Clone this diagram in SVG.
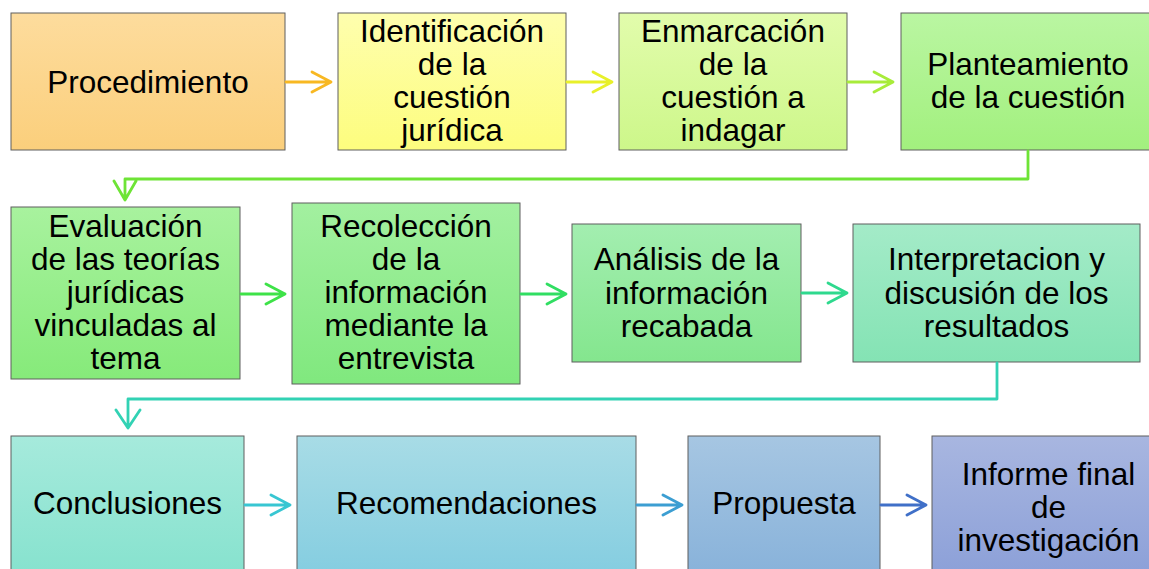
<svg xmlns="http://www.w3.org/2000/svg" width="1149" height="569" viewBox="0 0 1149 569">
<style>
.box{stroke:#5f5f5f;stroke-width:1}
.t{font-family:"Liberation Sans",Arial,sans-serif;font-size:31.5px;fill:#000;text-anchor:middle}
.c{fill:none;stroke-width:2.8;stroke-linecap:round;stroke-linejoin:round}
</style>
<defs>
<linearGradient id="g1" x1="0" y1="0" x2="0" y2="1"><stop offset="0" stop-color="#FDDC9D"/><stop offset="1" stop-color="#FBCF7C"/></linearGradient>
<linearGradient id="g2" x1="0" y1="0" x2="0" y2="1"><stop offset="0" stop-color="#FEFEAE"/><stop offset="1" stop-color="#FDFD7E"/></linearGradient>
<linearGradient id="g3" x1="0" y1="0" x2="0" y2="1"><stop offset="0" stop-color="#E2FCAC"/><stop offset="1" stop-color="#CDF78A"/></linearGradient>
<linearGradient id="g4" x1="0" y1="0" x2="0" y2="1"><stop offset="0" stop-color="#BAF6A2"/><stop offset="1" stop-color="#A2F07E"/></linearGradient>
<linearGradient id="g5" x1="0" y1="0" x2="0" y2="1"><stop offset="0" stop-color="#A8F29E"/><stop offset="1" stop-color="#86EA7A"/></linearGradient>
<linearGradient id="g6" x1="0" y1="0" x2="0" y2="1"><stop offset="0" stop-color="#A3F0A0"/><stop offset="1" stop-color="#80E87E"/></linearGradient>
<linearGradient id="g7" x1="0" y1="0" x2="0" y2="1"><stop offset="0" stop-color="#A3EEB0"/><stop offset="1" stop-color="#84E68E"/></linearGradient>
<linearGradient id="g8" x1="0" y1="0" x2="0" y2="1"><stop offset="0" stop-color="#A4EBC8"/><stop offset="1" stop-color="#84E3B4"/></linearGradient>
<linearGradient id="g9" x1="0" y1="0" x2="0" y2="1"><stop offset="0" stop-color="#A6EADC"/><stop offset="1" stop-color="#86E2CE"/></linearGradient>
<linearGradient id="g10" x1="0" y1="0" x2="0" y2="1"><stop offset="0" stop-color="#A8DCE6"/><stop offset="1" stop-color="#84CDE0"/></linearGradient>
<linearGradient id="g11" x1="0" y1="0" x2="0" y2="1"><stop offset="0" stop-color="#A6C6E2"/><stop offset="1" stop-color="#88B2DA"/></linearGradient>
<linearGradient id="g12" x1="0" y1="0" x2="0" y2="1"><stop offset="0" stop-color="#A8B6E0"/><stop offset="1" stop-color="#8CA0D8"/></linearGradient>
</defs>
<rect width="1149" height="569" fill="#fff"/>

<g id="n1"><rect class="box" x="11" y="13" width="274" height="137" fill="url(#g1)"/>
<text class="t" x="148" y="93">Procedimiento</text></g>
<g id="n2"><rect class="box" x="338" y="13" width="228" height="137" fill="url(#g2)"/>
<text class="t" x="452"><tspan x="452" y="42">Identificación</tspan><tspan x="452" y="75">de la</tspan><tspan x="452" y="108">cuestión</tspan><tspan x="452" y="141">jurídica</tspan></text></g>
<g id="n3"><rect class="box" x="619" y="13" width="228" height="137" fill="url(#g3)"/>
<text class="t" x="733"><tspan x="733" y="42">Enmarcación</tspan><tspan x="733" y="75">de la</tspan><tspan x="733" y="108">cuestión a</tspan><tspan x="733" y="141">indagar</tspan></text></g>
<g id="n4"><rect class="box" x="901" y="13" width="254" height="137" fill="url(#g4)"/>
<text class="t" x="1028"><tspan x="1028" y="75">Planteamiento</tspan><tspan x="1028" y="108">de la cuestión</tspan></text></g>

<g id="n5"><rect class="box" x="11" y="207" width="229" height="172" fill="url(#g5)"/>
<text class="t" x="125.5"><tspan x="125.5" y="237">Evaluación</tspan><tspan x="125.5" y="270">de las teorías</tspan><tspan x="125.5" y="303">jurídicas</tspan><tspan x="125.5" y="336">vinculadas al</tspan><tspan x="125.5" y="369">tema</tspan></text></g>
<g id="n6"><rect class="box" x="292" y="203" width="228" height="181" fill="url(#g6)"/>
<text class="t" x="406"><tspan x="406" y="237">Recolección</tspan><tspan x="406" y="270">de la</tspan><tspan x="406" y="303">información</tspan><tspan x="406" y="336">mediante la</tspan><tspan x="406" y="369">entrevista</tspan></text></g>
<g id="n7"><rect class="box" x="572" y="224" width="229" height="138" fill="url(#g7)"/>
<text class="t" x="686.5"><tspan x="686.5" y="270">Análisis de la</tspan><tspan x="686.5" y="304">información</tspan><tspan x="686.5" y="337">recabada</tspan></text></g>
<g id="n8"><rect class="box" x="853" y="224" width="287" height="138" fill="url(#g8)"/>
<text class="t" x="996.5"><tspan x="996.5" y="270">Interpretacion y</tspan><tspan x="996.5" y="304">discusión de los</tspan><tspan x="996.5" y="337">resultados</tspan></text></g>

<g id="n9"><rect class="box" x="11" y="436" width="233" height="140" fill="url(#g9)"/>
<text class="t" x="127.5" y="514">Conclusiones</text></g>
<g id="n10"><rect class="box" x="297" y="436" width="339" height="140" fill="url(#g10)"/>
<text class="t" x="466.5" y="514">Recomendaciones</text></g>
<g id="n11"><rect class="box" x="688" y="436" width="192" height="140" fill="url(#g11)"/>
<text class="t" x="784" y="514">Propuesta</text></g>
<g id="n12"><rect class="box" x="932" y="436" width="233" height="140" fill="url(#g12)"/>
<text class="t" x="1048.5"><tspan x="1048.5" y="485">Informe final</tspan><tspan x="1048.5" y="518">de</tspan><tspan x="1048.5" y="551">investigación</tspan></text></g>

<g id="connectors">
<path class="c" stroke="#F8B822" d="M286,82 H331 M312,72 L331,82 L312,92"/>
<path class="c" stroke="#E8F02A" d="M567,82 H612 M593,72 L612,82 L593,92"/>
<path class="c" stroke="#A8EC3A" d="M848,82 H893 M874,72 L893,82 L874,92"/>
<path class="c" stroke="#6EE436" d="M1028,151 V179 H125 V200 M114,181 L125,200 L136,181"/>
<path class="c" stroke="#3EE248" d="M241,294 H285 M266,284 L285,294 L266,304"/>
<path class="c" stroke="#30DE62" d="M521,294 H566 M547,284 L566,294 L547,304"/>
<path class="c" stroke="#2ED98E" d="M802,293 H847 M828,283 L847,293 L828,303"/>
<path class="c" stroke="#32D2B4" d="M997,363 V399 H128 V428 M116,410 L128,428 L140,410"/>
<path class="c" stroke="#38C6D2" d="M245,505 H290 M271,495 L290,505 L271,515"/>
<path class="c" stroke="#3C9ED2" d="M637,505 H682 M663,495 L682,505 L663,515"/>
<path class="c" stroke="#4070C8" d="M881,505 H926 M907,495 L926,505 L907,515"/>
</g>
</svg>
